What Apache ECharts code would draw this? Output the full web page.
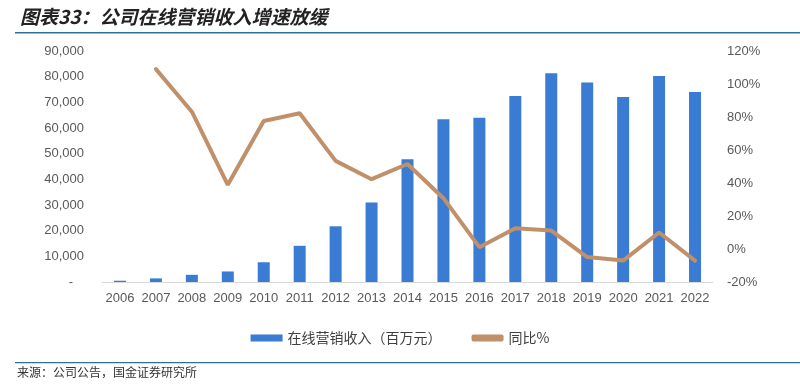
<!DOCTYPE html>
<html><head><meta charset="utf-8">
<script src="https://cdn.jsdelivr.net/npm/echarts@6/dist/echarts.min.js"></script>
<style>html,body{margin:0;padding:0;background:#fff}#c{width:800px;height:385px}</style>
</head><body><div id="c"></div>
<script>
const years = ['2006','2007','2008','2009','2010','2011','2012','2013','2014','2015','2016','2017','2018','2019','2020','2021','2022'];
const revenue = [500,1400,2800,4100,7700,14100,21700,31000,47800,63400,64000,72500,81300,77700,72100,80300,74000];
const yoy = [null,109,83.2,38.9,77.6,82.3,53.4,42.3,51.5,30.8,1.1,12.6,11.2,-4.9,-7,10,-7];
const leftTicks = {min:0,max:90000,interval:10000};
const rightTicks = {min:-20,max:120,interval:20};
const titleText = '图表33：公司在线营销收入增速放缓';
const sourceText = '来源：公司公告，国金证券研究所';
const seriesNames = ['在线营销收入（百万元）','同比%'];

const chart = echarts.init(document.getElementById('c'));
const lab = {color:'#595959',fontSize:13,fontFamily:'Liberation Sans, Arial, sans-serif'};
chart.setOption({
  animation:false,
  grid:{left:102,right:87,top:51,bottom:103},
  graphic:[
    {type:'text',left:20,top:7,style:{text:titleText,fontSize:19,fontWeight:'bold',fontStyle:'italic',fill:'#222',fontFamily:'Noto Sans CJK SC'}},
    {type:'rect',shape:{x:15,y:32,width:785,height:1.5},style:{fill:'#2F6E95'}},
    {type:'rect',shape:{x:15,y:362,width:785,height:1.2},style:{fill:'#2F6E95'}},
    {type:'text',left:17,top:366,style:{text:sourceText,fontSize:12,fill:'#333',fontFamily:'Noto Sans CJK SC'}}
  ],
  legend:{top:326,left:'center',itemGap:30,itemWidth:32,itemHeight:7,
    textStyle:{color:'#404040',fontSize:14,fontFamily:'Noto Sans CJK SC'},
    data:[{name:seriesNames[0],icon:'rect'},{name:seriesNames[1],icon:'roundRect',itemStyle:{color:'#C0906B'}}]},
  xAxis:{type:'category',data:years,
    axisLine:{lineStyle:{color:'#D9D9D9',width:1}},axisTick:{show:false},
    axisLabel:Object.assign({},lab,{margin:10,interval:0})},
  yAxis:[
    {type:'value',min:leftTicks.min,max:leftTicks.max,interval:leftTicks.interval,
      splitLine:{show:false},axisLine:{show:false},axisTick:{show:false},
      axisLabel:Object.assign({},lab,{margin:18,formatter:v=>v===0?'-   ':v.toLocaleString('en-US')})},
    {type:'value',min:rightTicks.min,max:rightTicks.max,interval:rightTicks.interval,
      splitLine:{show:false},axisLine:{show:false},axisTick:{show:false},
      axisLabel:Object.assign({},lab,{margin:14,formatter:'{value}%'})}
  ],
  series:[
    {name:seriesNames[0],type:'bar',data:revenue,barWidth:12,itemStyle:{color:'#3A7BD3'}},
    {name:seriesNames[1],type:'line',yAxisIndex:1,data:yoy,symbol:'none',
      lineStyle:{color:'#C0906B',width:4,cap:'round'},itemStyle:{color:'#C0906B'}}
  ]
});
</script></body></html>
